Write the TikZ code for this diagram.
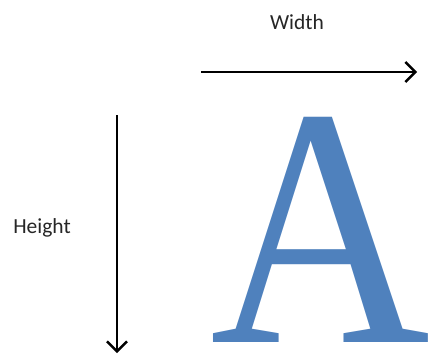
\documentclass[tikz,border=0pt]{standalone}
\usepackage{fontspec}
\setmainfont{Carlito}
\newfontfamily\letterfont{Liberation Serif}
\usetikzlibrary{arrows.meta}
\definecolor{letterblue}{HTML}{4F81BD}
\definecolor{labelgray}{HTML}{262626}
\begin{document}
\begin{tikzpicture}[x=1pt,y=-1pt,
  dimarrow/.style={line width=2.4pt,-{Straight Barb[length=10pt,width=20pt,line width=2.4pt]}},
  lbl/.style={inner sep=0pt,anchor=base,font=\fontsize{21.5}{25}\selectfont,text=labelgray}]
\useasboundingbox (0,0) rectangle (433,354);
\coordinate (w0) at (201,72);
\coordinate (w1) at (417,72);
\coordinate (h0) at (117,115);
\coordinate (h1) at (117,353);
\draw[dimarrow] (w0) -- (w1);
\draw[dimarrow] (h0) -- (h1);
\node[lbl] (width) at (297,29) {Width};
\node[lbl] (height) at (42,233) {Height};
\node[inner sep=0pt,anchor=south west,text=letterblue] (bigA) at (210,343)
  {\resizebox{220pt}{225pt}{\letterfont A}};
\end{tikzpicture}
\end{document}
